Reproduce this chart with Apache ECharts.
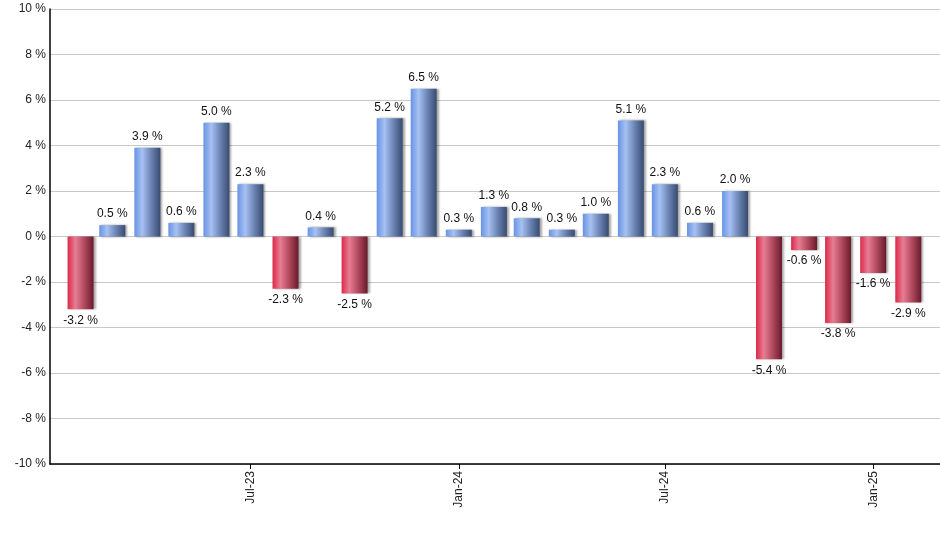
<!DOCTYPE html>
<html>
<head>
<meta charset="utf-8">
<script src="https://cdn.jsdelivr.net/npm/echarts@6/dist/echarts.min.js"></script>
<style>
html,body{margin:0;padding:0;background:#fff;}
#chart{width:940px;height:550px;}
</style>
</head>
<body>
<div id="chart"></div>
<script>
// Monthly returns (first day of each month)
var months = ['2023-02','2023-03','2023-04','2023-05','2023-06','2023-07','2023-08','2023-09','2023-10','2023-11','2023-12',
              '2024-01','2024-02','2024-03','2024-04','2024-05','2024-06','2024-07','2024-08','2024-09','2024-10','2024-11','2024-12',
              '2025-01','2025-02'];
var values = [-3.2, 0.5, 3.9, 0.6, 5.0, 2.3, -2.3, 0.4, -2.5, 5.2, 6.5,
              0.3, 1.3, 0.8, 0.3, 1.0, 5.1, 2.3, 0.6, 2.0, -5.4, -0.6, -3.8,
              -1.6, -2.9];
var xTickMonths = ['2023-07','2024-01','2024-07','2025-01'];
var xTickLabels = ['Jul-23','Jan-24','Jul-24','Jan-25'];

var DAY = 86400000;
var ORIGIN = Date.UTC(2023,1,1);
function toDay(m){ var p = m.split('-'); return Math.round((Date.UTC(+p[0], +p[1]-1, 1) - ORIGIN)/DAY); }

var blueGrad = new echarts.graphic.LinearGradient(0,0,1,0,[
  {offset:0,color:'#6893e4'},{offset:0.3,color:'#a6c1f3'},{offset:0.65,color:'#6a83b3'},{offset:1,color:'#384b70'}]);
var redGrad = new echarts.graphic.LinearGradient(0,0,1,0,[
  {offset:0,color:'#dc2848'},{offset:0.3,color:'#e77d93'},{offset:0.65,color:'#b0485d'},{offset:1,color:'#681a2b'}]);

var data = months.map(function(m,i){
  var v = values[i];
  return {
    value:[toDay(m), v],
    itemStyle:{color: v >= 0 ? blueGrad : redGrad},
    label:{position: v >= 0 ? 'top' : 'bottom'}
  };
});
var tickVals = xTickMonths.map(toDay);

var chart = echarts.init(document.getElementById('chart'), null, {renderer:'canvas'});
chart.setOption({
  animation:false,
  backgroundColor:'#ffffff',
  grid:{left:50, right:0, top:9, bottom:86, containLabel:false},
  xAxis:{
    type:'value',
    min: -27,
    max: 759,
    axisLine:{show:true, onZero:false, lineStyle:{color:'#000', width:1.5}},
    axisTick:{show:true, customValues: tickVals, length:5, lineStyle:{color:'#000', width:1}},
    axisLabel:{show:true, customValues: tickVals, rotate:90, margin:7, color:'#222',
      fontFamily:'Liberation Sans, Arial, sans-serif', fontSize:12,
      formatter:function(v){ var i = tickVals.indexOf(v); return i>=0 ? xTickLabels[i] : ''; }},
    splitLine:{show:false}
  },
  yAxis:{
    type:'value', min:-10, max:10, interval:2,
    axisLine:{show:true, onZero:false, lineStyle:{color:'#000', width:1.5}},
    axisTick:{show:false},
    axisLabel:{color:'#222', fontFamily:'Liberation Sans, Arial, sans-serif', fontSize:12, margin:4,
      formatter:function(v){ return v + ' %'; }},
    splitLine:{show:true, lineStyle:{color:'#c8c8c8', width:1}}
  },
  series:[{
    type:'bar',
    barWidth:26,
    data:data,
    itemStyle:{shadowColor:'rgba(0,0,0,0.35)', shadowOffsetX:2, shadowOffsetY:0, shadowBlur:2},
    label:{show:true, distance:5, color:'#111', fontFamily:'Liberation Sans, Arial, sans-serif', fontSize:12,
      formatter:function(p){ return p.value[1].toFixed(1) + ' %'; }}
  }]
});
</script>
</body>
</html>
